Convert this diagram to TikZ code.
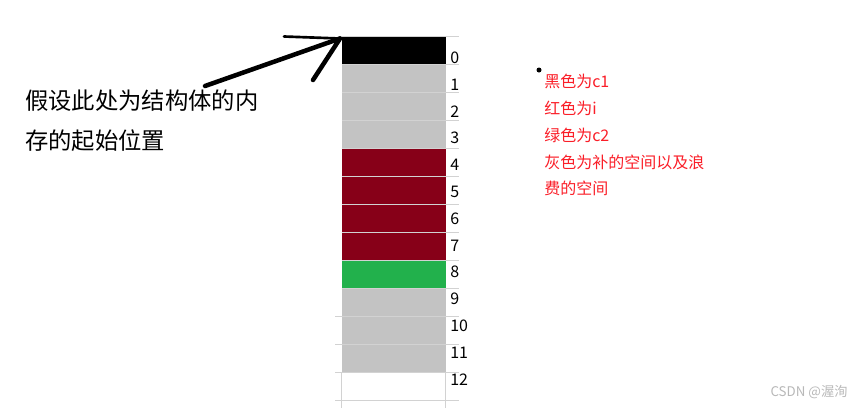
\documentclass[tikz,border=0pt]{standalone}
\usepackage{fontspec}
\setmainfont{Noto Sans CJK SC}
\definecolor{memgray}{RGB}{195,195,195}
\definecolor{memred}{RGB}{135,0,24}
\definecolor{memgreen}{RGB}{34,177,76}
\definecolor{gridgray}{RGB}{210,210,210}
\definecolor{notered}{RGB}{250,30,40}
\tikzset{
  cell/.style={inner sep=0pt, outer sep=0pt, minimum width=78pt, minimum height=21pt},
  gridline/.style={draw=gridgray, line width=0.9pt},
  numlabel/.style={inner sep=0pt, anchor=base west, font=\fontsize{12}{14}\selectfont},
  fatarrow/.style={line width=3.4pt, line cap=round}
}
\begin{document}
\begin{tikzpicture}[x=0.75pt,y=0.75pt,yscale=-1,xscale=1]
\useasboundingbox (0,0) rectangle (852,408);

%memory cells
\foreach \c [count=\i from 0] in {black,memgray,memgray,memgray,memred,memred,memred,memred,memgreen,memgray,memgray,memgray,white}
  \node[cell, fill=\c] (c\i) at (393.5,{50.3+28*\i}) {};
%grid lines
\foreach \k in {0,...,9}
  \draw[gridline] (341.5,{36.3+28*\k}) -- (459,{36.3+28*\k});
\foreach \k in {10,...,13}
  \draw[gridline] (335,{36.3+28*\k}) -- (459,{36.3+28*\k});
\draw[gridline] (c12.north west) -- (341.5,408);
\draw[gridline] (c12.north east) -- (445.5,408);

%offsets
\foreach \i in {0,...,12}
  \node[numlabel] (n\i) at (450,{63.5+26.8*\i}) {\i};

% Text Node
\node[anchor=north west, align=left, inner sep=0pt, font=\fontsize{17.5}{30}\selectfont] (start) at (25,90) {假设此处为结构体的内\\存的起始位置};
% Text Node
\node[anchor=north west, align=left, inner sep=0pt, text=notered, font=\fontsize{12}{20.2}\selectfont] (legend) at (544,73.5) {黑色为c1\\红色为i\\绿色为c2\\灰色为补的空间以及浪\\费的空间};
\fill (539,70) circle (2.5);

%arrow to the first byte
\coordinate (tail) at (205,86);
\coordinate (tip) at (340,38.5);
\coordinate (barbl) at (284,36.5);
\coordinate (barbr) at (313,80);
\draw[fatarrow] (tail) -- (tip);
\draw[fatarrow] (barbr) -- (tip);
\draw[line width=2pt, line cap=round] (barbl) -- (tip);

% Watermark
\node[anchor=east, inner sep=0pt, text=black!28, font=\fontsize{10}{12}\selectfont] (mark) at (848,392) {CSDN @渥洵};
\end{tikzpicture}
\end{document}
